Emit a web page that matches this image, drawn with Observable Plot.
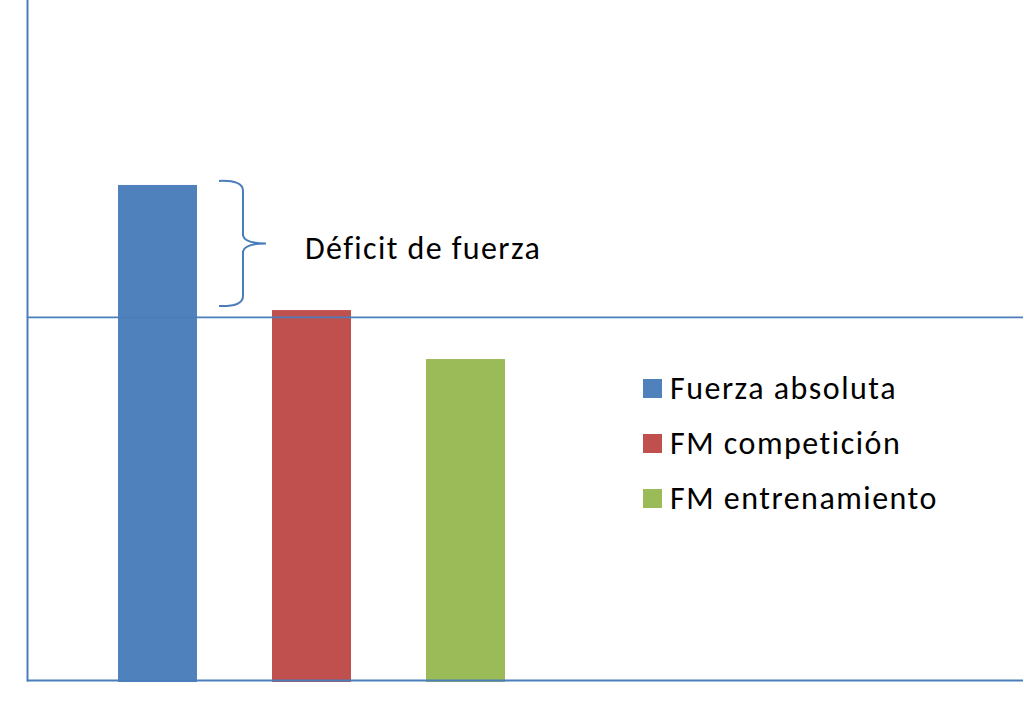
<!DOCTYPE html>
<html>
<head>
<meta charset="utf-8">
<script src="https://cdn.jsdelivr.net/npm/d3@7"></script>
<script src="https://cdn.jsdelivr.net/npm/@observablehq/plot@0.6"></script>
<style>
  html, body { margin: 0; padding: 0; background: #fff; }
  #wrap { position: relative; width: 1024px; height: 704px; }
  .legend { position: absolute; left: 643px; top: 361px; font-family: Carlito, Lato, sans-serif; font-size: 32px; letter-spacing: 1.5px; color: #000; }
  .legend .item { display: flex; align-items: center; height: 55px; }
  .legend .sw { width: 19px; height: 19px; margin-right: 8px; }
</style>
</head>
<body>
<div id="wrap"></div>
<script>
const categories = ["Fuerza absoluta", "FM competición", "FM entrenamiento"];
const values = [72.8, 54.4, 47.2];
const colors = ["#4F81BD", "#C0504D", "#9BBB59"];
const referenceLevel = [53.4];
const deficitRange = [55.0, 73.4];
const deficitLabel = "Déficit de fuerza";
const lineColor = "#4A7EBB";

const data = categories.map((c, i) => ({cat: c, value: values[i]}));

function brace(index, scales) {
  const {x, y} = scales;
  const bw = x.bandwidth ? x.bandwidth() : 0;
  const x0 = x(categories[0]) + bw + 22;
  const xm = x0 + 24;
  const tip = x0 + 47;
  const yT = y(deficitRange[1]);
  const yB = y(deficitRange[0]);
  const ym = (yT + yB) / 2;
  const p = d3.path();
  p.moveTo(x0, yT);
  p.quadraticCurveTo(xm, yT - 1, xm, yT + 10);
  p.lineTo(xm, ym - 8);
  p.quadraticCurveTo(xm + 2, ym, tip, ym);
  p.moveTo(tip, ym);
  p.quadraticCurveTo(xm + 2, ym, xm, ym + 8);
  p.lineTo(xm, yB - 10);
  p.quadraticCurveTo(xm, yB + 1, x0, yB);
  const g = d3.create("svg:path")
    .attr("d", p.toString())
    .attr("fill", "none")
    .attr("stroke", lineColor)
    .attr("stroke-width", 2);
  return g.node();
}

const chart = Plot.plot({
  width: 1024,
  height: 704,
  marginLeft: 27,
  marginRight: 1,
  marginTop: 0,
  marginBottom: 24,
  style: {background: "#fff", fontFamily: "Carlito, Lato, sans-serif"},
  x: {type: "band", domain: categories, range: [41.4, 580.5], padding: 0.489, axis: null},
  y: {domain: [0, 100], axis: null},
  color: {domain: categories, range: colors},
  marks: [
    Plot.barY(data, {x: "cat", y: "value", fill: "cat", insetBottom: -2}),
    Plot.ruleY(referenceLevel, {stroke: lineColor, strokeWidth: 1.6}),
    Plot.ruleY([0], {stroke: lineColor, strokeWidth: 2}),
    Plot.frame({anchor: "left", stroke: lineColor, strokeWidth: 2}),
    brace,
    Plot.text([deficitLabel], {
      x: () => categories[0],
      y: () => (deficitRange[0] + deficitRange[1]) / 2,
      text: d => d,
      textAnchor: "start",
      dx: 147,
      dy: 5,
      fontSize: 32,
      fill: "#000",
      style: {letterSpacing: "1.4px"}
    })
  ]
});

const wrap = document.getElementById("wrap");
wrap.appendChild(chart);
chart.querySelectorAll("text").forEach(t => t.setAttribute("letter-spacing", "1.4"));

const legend = document.createElement("div");
legend.className = "legend";
categories.forEach((c, i) => {
  const item = document.createElement("div");
  item.className = "item";
  const sw = document.createElement("span");
  sw.className = "sw";
  sw.style.background = colors[i];
  const t = document.createElement("span");
  t.textContent = c;
  item.appendChild(sw);
  item.appendChild(t);
  legend.appendChild(item);
});
wrap.appendChild(legend);
</script>
</body>
</html>
